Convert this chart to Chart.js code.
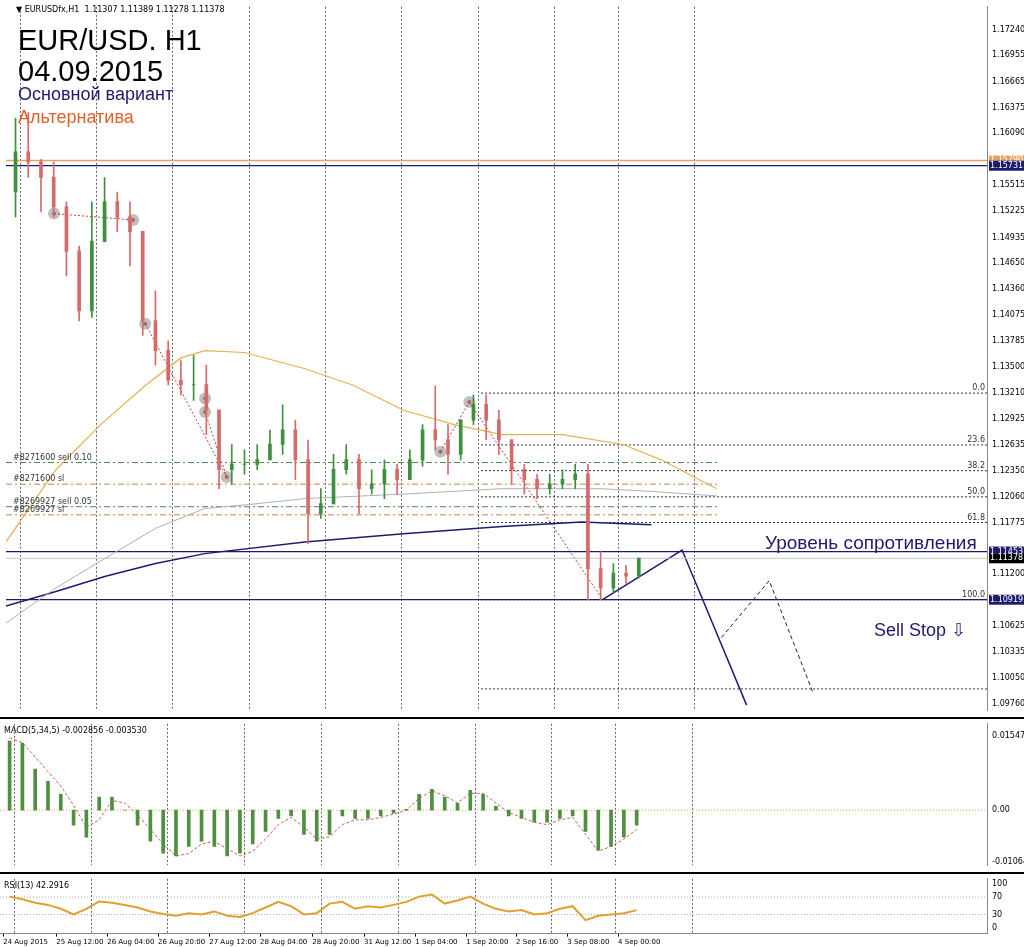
<!DOCTYPE html>
<html><head><meta charset="utf-8">
<script src="https://cdn.jsdelivr.net/npm/chart.js@4.4.0/dist/chart.umd.min.js"></script>
<style>
body{margin:0;background:#fff;width:1024px;height:947px;overflow:hidden;font-family:"Liberation Sans",Arial,sans-serif}
canvas{position:absolute;left:0}
.t{position:absolute;white-space:nowrap}
</style></head><body>
<canvas id="main" style="top:0px" width="1024" height="717"></canvas>
<canvas id="macd" style="top:717px" width="1024" height="155"></canvas>
<canvas id="rsi" style="top:872px" width="1024" height="75"></canvas>
<div class="t" style="left:16px;top:5px;font:8px 'DejaVu Sans';color:#000">&#9660; EURUSDfx,H1&nbsp; 1.11307 1.11389 1.11278 1.11378</div>
<div class="t" style="left:18px;top:24px;font:29px 'Liberation Sans';color:#000">EUR/USD. H1</div>
<div class="t" style="left:18px;top:55px;font:29px 'Liberation Sans';color:#000">04.09.2015</div>
<div class="t" style="left:18px;top:84px;font:18px 'Liberation Sans';color:#1c1c6e">Основной вариант</div>
<div class="t" style="left:18px;top:107px;font:18px 'Liberation Sans';color:#e0602a">Альтернатива</div>
<div class="t" style="left:765px;top:532px;font:19px 'Liberation Sans';color:#1c1c6e">Уровень сопротивления</div>
<div class="t" style="left:874px;top:619px;font:18px 'Liberation Sans';color:#1c1c6e">Sell Stop &#8681;</div>
<script>
// 4-hour candles, index k covers hourly bars 4k..4k+4
const opens = [1.1544,1.1588,1.1577,1.1560,1.1527,1.1478,1.1412,1.1489,1.1533,1.1516,1.1500,1.1401,1.1368,1.1335,1.1330,1.1330,1.1302,1.1236,1.1242,1.1242,1.1247,1.1264,1.1280,1.1247,1.1187,1.1198,1.1236,1.1247,1.1215,1.1220,1.1236,1.1225,1.1247,1.1280,1.1269,1.1253,1.1291,1.1308,1.1291,1.1269,1.1236,1.1225,1.1215,1.1220,1.1225,1.1231,1.1126,1.1105,1.1121,1.1118];
const highs = [1.1626,1.1632,1.1580,1.1577,1.1533,1.1484,1.1533,1.1560,1.1544,1.1533,1.1500,1.1434,1.1379,1.1357,1.1363,1.1352,1.1302,1.1264,1.1258,1.1264,1.1280,1.1308,1.1291,1.1269,1.1215,1.1253,1.1264,1.1253,1.1236,1.1247,1.1242,1.1258,1.1286,1.1329,1.1286,1.1291,1.1319,1.1319,1.1302,1.1269,1.1242,1.1231,1.1231,1.1236,1.1242,1.1242,1.1145,1.1132,1.1130,1.1138];
const lows = [1.1516,1.1560,1.1522,1.1516,1.1451,1.1401,1.1405,1.1489,1.1500,1.1462,1.1385,1.1352,1.1330,1.1319,1.1313,1.1275,1.1215,1.1220,1.1231,1.1236,1.1247,1.1253,1.1225,1.1154,1.1182,1.1198,1.1231,1.1187,1.1209,1.1204,1.1209,1.1225,1.1240,1.1258,1.1231,1.1247,1.1286,1.1269,1.1253,1.1220,1.1209,1.1204,1.1209,1.1215,1.1215,1.1092,1.1092,1.1100,1.1110,1.1116];
const closes = [1.1588,1.1577,1.1560,1.1527,1.1478,1.1412,1.1489,1.1533,1.1516,1.1500,1.1401,1.1368,1.1335,1.1330,1.1330,1.1302,1.1236,1.1242,1.1242,1.1247,1.1264,1.1280,1.1247,1.1187,1.1198,1.1236,1.1247,1.1215,1.1220,1.1236,1.1225,1.1247,1.1280,1.1269,1.1253,1.1291,1.1308,1.1291,1.1269,1.1236,1.1225,1.1215,1.1220,1.1225,1.1231,1.1126,1.1105,1.1121,1.1118,1.11378];

// moving averages [bar index, price]
const maOrange = [[-1,1.1156],[14.7,1.1236],[28.75,1.1286],[43,1.1330],[54,1.1360],[61.5,1.1368],[74,1.1366],[93,1.1348],[108,1.1330],[124,1.1302],[140,1.1286],[155,1.1275],[174,1.1275],[193,1.1264],[205,1.1247],[222.5,1.1215]];
const maGray = [[-1,1.1066],[14.7,1.1105],[30.3,1.1138],[46,1.1171],[61.5,1.1193],[77,1.1198],[93,1.1204],[124,1.1209],[155,1.1215],[186,1.1215],[202,1.1212],[222.5,1.1207]];
const maNavy = [[-1,1.1085],[14.7,1.1101],[30.3,1.1118],[46,1.1132],[61.5,1.1143],[93,1.1156],[124,1.1165],[155,1.1173],[180,1.1178],[202,1.1175]];

const priceTicks = [1.17240,1.16955,1.16665,1.16375,1.16090,1.15515,1.15225,1.14935,1.14650,1.14360,1.14075,1.13785,1.13500,1.13210,1.12925,1.12635,1.12350,1.12060,1.11775,1.11200,1.10625,1.10335,1.10050,1.09760];
const boxLevels = [[1.15790,'#e8a060'],[1.15731,'#1c1c6e'],[1.11453,'#1c1c6e'],[1.11378,'#000'],[1.10919,'#1c1c6e']];
const fibLevels = [[1.13210,'0.0'],[1.12635,'23.6'],[1.12350,'38.2'],[1.12060,'50.0'],[1.11775,'61.8'],[1.10919,'100.0'],[1.09930,'']];
const orderLines = [[1.1244,'#8271600 sell 0.10','#4a8a4a'],[1.1220,'#8271600 sl','#d08050'],[1.1195,'#8269927 sell 0.05','#4a8a4a'],[1.1186,'#8269927 sl','#d08050']];
const dealPoints = [[14.1,1.1520],[39,1.1513],[42.8,1.1398],[61.6,1.1315],[61.6,1.1300],[68.4,1.1228],[135.6,1.1256],[144.7,1.1311]];
const dealPaths = [[[14.1,1.1520],[39,1.1513]],[[42.8,1.1398],[68.4,1.1228]],[[61.6,1.1300],[68.4,1.1228]],[[135.6,1.1256],[144.7,1.1311],[186.6,1.1092]]];
const planMain = [[186.6,1.1092],[211.6,1.1147],[231.9,1.0975]];
const planAlt = [[224,1.1050],[239,1.1113],[253,1.0987]];

const macdHist = [0.0143,0.0139,0.0085,0.0060,0.0033,-0.0031,-0.0056,0.0027,0.0027,0,-0.0031,-0.0064,-0.0089,-0.0095,-0.0075,-0.0064,-0.0075,-0.0095,-0.0089,-0.0070,-0.0044,-0.0017,-0.0012,-0.0050,-0.0064,-0.0050,-0.0012,-0.0017,-0.0017,-0.0012,-0.0006,0.0002,0.0033,0.0043,0.0027,0.0014,0.0041,0.0033,0.0008,-0.0012,-0.0017,-0.0025,-0.0025,-0.0017,-0.0012,-0.0044,-0.0083,-0.0075,-0.0056,-0.0031];
const macdSignal = [0.0150,0.0140,0.0110,0.0080,0.0050,0.0010,-0.0035,-0.0020,0.0020,0.0015,-0.0010,-0.0040,-0.0070,-0.0095,-0.0090,-0.0070,-0.0065,-0.0080,-0.0095,-0.0085,-0.0060,-0.0030,-0.0015,-0.0035,-0.0060,-0.0055,-0.0030,-0.0020,-0.0020,-0.0015,-0.0008,0.0000,0.0025,0.0040,0.0030,0.0015,0.0035,0.0035,0.0015,-0.0005,-0.0015,-0.0025,-0.0030,-0.0020,-0.0015,-0.0050,-0.0085,-0.0075,-0.0060,-0.0040];
const rsiValues = [71,65,57,52,43,30,43,60,57,52,46,37,31,27,33,30,37,27,24,33,46,59,49,30,33,55,59,43,49,46,52,59,71,76,55,62,71,55,43,37,40,30,33,43,49,17,27,30,33,40];

const dateLabels = ['24 Aug 2015','25 Aug 12:00','26 Aug 04:00','26 Aug 20:00','27 Aug 12:00','28 Aug 04:00','28 Aug 20:00','31 Aug 12:00','1 Sep 04:00','1 Sep 20:00','2 Sep 16:00','3 Sep 08:00','4 Sep 00:00'];
const dateIdx = [0,16.6,32.5,48.4,64.4,80.3,96.6,112.8,128.8,144.7,160.3,176.3,192.2];
const gridIdx = [3.5,27.5,51.5,75.5,99.5,123.5,147.5,171.5,191.5,215.5];

const X_MIN = -1, X_MAX = 307.5, AXIS_W = 37;
const FONT = {family:'DejaVu Sans', size: 8};

function xScale(){
  return {type:'linear',min:X_MIN,max:X_MAX,offset:false,
    afterBuildTicks: s => { s.ticks = gridIdx.map(v => ({value:v})); },
    grid:{color:'#666',drawTicks:false,lineWidth:1,offset:false},
    border:{display:false,dash:[2,2]},
    ticks:{display:false}};
}
function yRight(min,max,ticks,fmt){
  return {type:'linear',position:'right',min:min,max:max,
    afterFit: s => { s.width = AXIS_W; },
    afterBuildTicks: s => { s.ticks = ticks.map(v => ({value:v})); },
    grid:{display:false,drawTicks:true,tickLength:3},
    border:{color:'#888'},
    ticks:{color:'#000',font:FONT,padding:2,callback:fmt}};
}
const pts = a => a.map(p => ({x:p[0],y:p[1]}));
const lineDs = (data,color,w,dash) => ({type:'line',data:pts(data),borderColor:color,borderWidth:w,borderDash:dash||[],pointRadius:0,fill:false,tension:0});

const idx = closes.map((c,k) => 4*k+2);
const up = closes.map((c,k) => c >= opens[k]);
const candleColor = up.map(u => u ? '#3f8f3f' : '#d46a6a');

const datasets = [
  {type:'bar',data:idx.map((x,k)=>({x:x,y:[lows[k],highs[k]]})),backgroundColor:candleColor,barThickness:1,grouped:false},
  {type:'bar',data:idx.map((x,k)=>({x:x,y:[Math.min(opens[k],closes[k]),Math.max(opens[k],closes[k])+0.00004]})),backgroundColor:candleColor,barThickness:3,grouped:false},
  lineDs(maOrange,'#e8b050',1.2),
  lineDs(maGray,'#b0b0b0',1),
  lineDs(maNavy,'#1c1c6e',1.5),
  lineDs([[X_MIN,1.15790],[X_MAX,1.15790]],'#e8a060',1.5),
  lineDs([[X_MIN,1.15731],[X_MAX,1.15731]],'#1c1c6e',1.2),
  lineDs([[X_MIN,1.11453],[X_MAX,1.11453]],'#1c1c6e',1.2),
  lineDs([[X_MIN,1.11378],[X_MAX,1.11378]],'#c8c8c8',1),
  lineDs([[X_MIN,1.10919],[X_MAX,1.10919]],'#1c1c6e',1.2),
];
fibLevels.forEach(f => datasets.push(lineDs([[148.4,f[0]],[X_MAX,f[0]]],'#333',1,[2,2])));
orderLines.forEach(o => datasets.push(lineDs([[X_MIN,o[0]],[223,o[0]]],o[2],1,[6,3,2,3])));
dealPaths.forEach(p => datasets.push(lineDs(p,'#c04040',1,[2,2])));
datasets.push(lineDs(planMain,'#1c1c6e',1.5));
datasets.push(lineDs(planAlt,'#222',1,[4,3]));
datasets.push({type:'scatter',data:pts(dealPoints),pointRadius:6,pointBackgroundColor:'rgba(150,150,150,0.6)',pointBorderWidth:0});
datasets.push({type:'scatter',data:pts(dealPoints),pointRadius:2,pointBackgroundColor:'#e02020',pointBorderWidth:0});

const mainLabels = {
  id:'mainLabels',
  afterDatasetsDraw(chart){
    const c = chart.ctx, y = chart.scales.y, x = chart.scales.x;
    c.save(); c.font = '8px "DejaVu Sans"';
    c.textAlign = 'right'; c.textBaseline = 'bottom'; c.fillStyle = '#333';
    fibLevels.forEach(f => { if (f[1]) c.fillText(f[1], x.right - 2, y.getPixelForValue(f[0]) - 1); });
    c.textAlign = 'left';
    orderLines.forEach(o => c.fillText(o[1], x.left + 7, y.getPixelForValue(o[0]) - 1));
    c.textBaseline = 'middle';
    boxLevels.forEach(b => {
      const py = y.getPixelForValue(b[0]);
      c.fillStyle = b[1]; c.fillRect(x.right + 2, py - 5, 35, 10);
      c.fillStyle = '#fff'; c.fillText(b[0].toFixed(5), x.right + 3, py);
    });
    c.restore();
  }
};

new Chart(document.getElementById('main'), {
  data:{datasets:datasets},
  options:{responsive:false,animation:false,events:[],layout:{padding:{top:3,bottom:3}},
    plugins:{legend:{display:false},tooltip:{enabled:false}},
    scales:{x:xScale(),y:yRight(1.09694,1.17493,priceTicks,v=>v.toFixed(5))}},
  plugins:[mainLabels]
});

const titleText = (txt) => ({
  id:'ttl',
  afterDraw(chart){
    const c = chart.ctx; c.save(); c.font = '8px "DejaVu Sans"'; c.fillStyle = '#000';
    c.textBaseline = 'top'; c.fillText(txt, chart.chartArea.left + 4, chart.chartArea.top + 3);
    c.strokeStyle = '#000'; c.lineWidth = 2; c.beginPath(); c.moveTo(0,1); c.lineTo(chart.width,1); c.stroke();
    c.restore();
  }
});

new Chart(document.getElementById('macd'), {
  data:{datasets:[
    {type:'bar',data:idx.map((x,k)=>({x:x,y:macdHist[k]})),backgroundColor:'#4f8f3f',barThickness:3,grouped:false},
    {type:'line',data:idx.map((x,k)=>({x:x,y:macdSignal[k]})),borderColor:'#d06060',borderWidth:1,borderDash:[3,2],pointRadius:0},
    lineDs([[X_MIN,0],[X_MAX,0]],'#e0b050',1,[1,2])
  ]},
  options:{responsive:false,animation:false,events:[],layout:{padding:{top:3,bottom:2}},
    plugins:{legend:{display:false},tooltip:{enabled:false}},
    scales:{x:xScale(),y:yRight(-0.0114,0.0179,[0.015471,0,-0.010648],v=>v===0?'0.00':v.toFixed(6))}},
  plugins:[titleText('MACD(5,34,5) -0.002856 -0.003530')]
});

new Chart(document.getElementById('rsi'), {
  data:{datasets:[
    {type:'line',data:idx.map((x,k)=>({x:x,y:rsiValues[k]})),borderColor:'#e0a030',borderWidth:2,pointRadius:0,xAxisID:'x'},
    lineDs([[X_MIN,70],[X_MAX,70]],'#aaa',1,[1,2]),
    lineDs([[X_MIN,30],[X_MAX,30]],'#aaa',1,[1,2])
  ]},
  options:{responsive:false,animation:false,events:[],layout:{padding:{top:2,bottom:0}},
    plugins:{legend:{display:false},tooltip:{enabled:false}},
    scales:{
      x:xScale(),
      x2:{type:'linear',position:'bottom',min:X_MIN,max:X_MAX,offset:false,
        afterBuildTicks: s => { s.ticks = dateIdx.map(v => ({value:v})); },
        grid:{display:true,drawOnChartArea:false,tickLength:3,color:'#000'},border:{color:'#888'},
        ticks:{color:'#000',font:{family:'DejaVu Sans',size:7},maxRotation:0,autoSkip:false,align:'start',padding:1,
          callback:(v,i)=>dateLabels[i]}},
      y:yRight(-14,112,[100,70,30,0],v=>String(v))}},
  plugins:[titleText('RSI(13) 42.2916')]
});
</script>
</body></html>
